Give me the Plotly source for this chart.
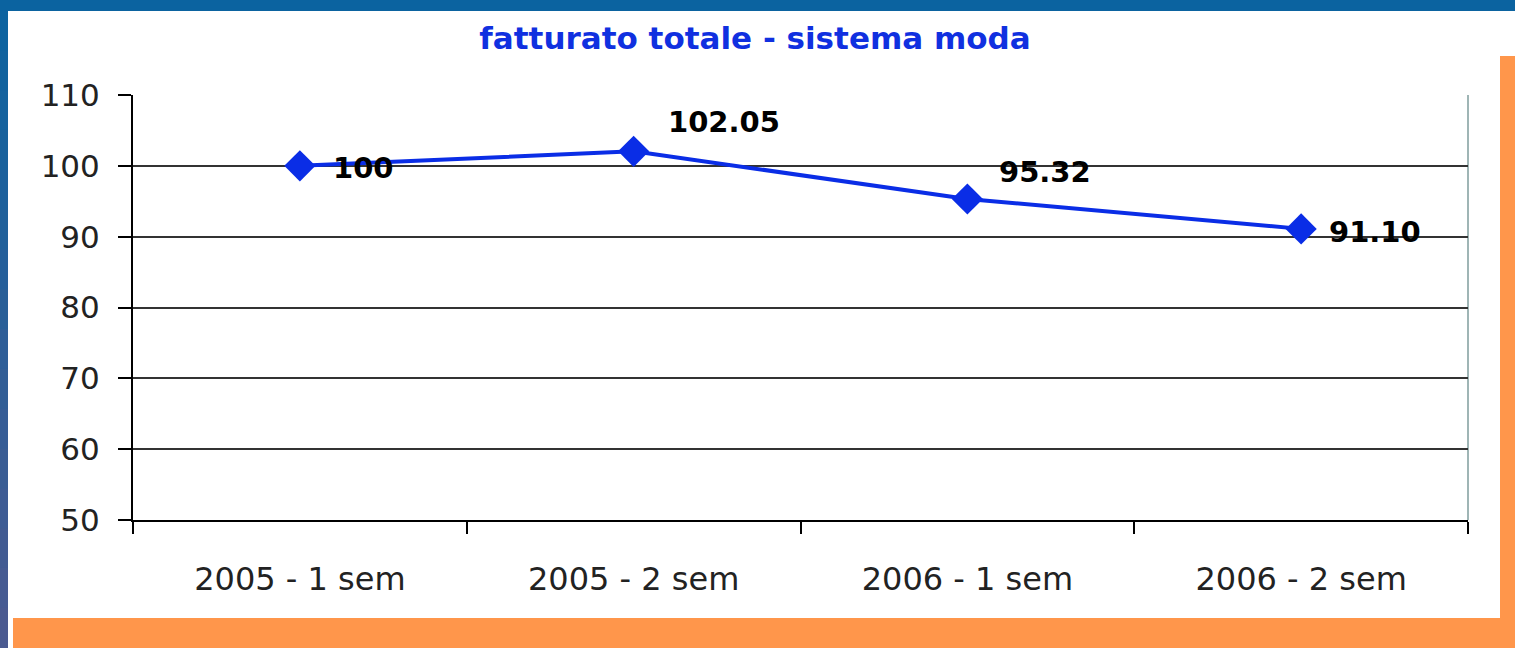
import plotly.graph_objects as go

# ---- data ----
categories = ["2005 - 1 sem", "2005 - 2 sem", "2006 - 1 sem", "2006 - 2 sem"]
values = [100, 102.05, 95.32, 91.10]
value_labels = ["100", "102.05", "95.32", "91.10"]
y_ticks = [50, 60, 70, 80, 90, 100, 110]
title_text = "fatturato totale - sistema moda"

# ---- styles ----
W, H = 1515, 648
M_L, M_R, M_T, M_B = 133, 47, 95, 128
BLUE_BG = "#0b63a0"
ORANGE = "#FF964B"
LINE_BLUE = "#0a2de6"
FONT = "DejaVu Sans"
label_shift = [(31, -2), (32, 29), (30, 27), (26, -3)]  # (xshift, yshift) px

PW = W - M_L - M_R
PH = H - M_T - M_B


def px_x(px):
    return (px - M_L) / PW


def px_y(py):
    return (H - M_B - py) / PH


fig = go.Figure()
fig.add_trace(go.Scatter(
    x=categories, y=values, mode="lines+markers",
    line=dict(color=LINE_BLUE, width=4),
    marker=dict(symbol="diamond", size=24, color=LINE_BLUE),
    hoverinfo="skip", showlegend=False, cliponaxis=False,
))

for c, v, t, (dx, dy) in zip(categories, values, value_labels, label_shift):
    fig.add_annotation(
        x=c, y=v, text=f"<b>{t}</b>", showarrow=False,
        xanchor="left", yanchor="middle", xshift=dx, yshift=dy,
        font=dict(family=FONT, size=29, color="black"),
    )

shapes = []
# left strip gradient (decoration)
top_rgb = (11, 99, 160)
bot_rgb = (76, 90, 144)
n_seg = 16
for i in range(n_seg):
    f = (i + 0.5) / n_seg
    col = tuple(round(a + (b - a) * f) for a, b in zip(top_rgb, bot_rgb))
    y0p = 11 + (H - 11) * i / n_seg
    y1p = 11 + (H - 11) * (i + 1) / n_seg
    shapes.append(dict(type="rect", xref="paper", yref="paper", layer="below",
                       x0=px_x(-2), x1=px_x(8), y0=px_y(y0p - 0.5), y1=px_y(y1p + 0.5),
                       fillcolor="rgb(%d,%d,%d)" % col, line=dict(width=0)))
shapes += [
    # white panel
    dict(type="rect", xref="paper", yref="paper", layer="below",
         x0=px_x(8), x1=px_x(W + 5), y0=px_y(11), y1=px_y(H + 5),
         fillcolor="white", line=dict(width=0)),
    # orange right bar
    dict(type="rect", xref="paper", yref="paper", layer="below",
         x0=px_x(1500), x1=px_x(W + 5), y0=px_y(56), y1=px_y(H + 5),
         fillcolor=ORANGE, line=dict(width=0)),
    # orange bottom bar
    dict(type="rect", xref="paper", yref="paper", layer="below",
         x0=px_x(13), x1=px_x(W + 5), y0=px_y(618), y1=px_y(H + 5),
         fillcolor=ORANGE, line=dict(width=0)),
    # right plot border
    dict(type="line", xref="paper", yref="paper", layer="below",
         x0=1, x1=1, y0=0, y1=1, line=dict(color="#7f9c9c", width=1.5)),
]

fig.update_layout(
    width=W, height=H,
    margin=dict(l=M_L, r=M_R, t=M_T, b=M_B),
    paper_bgcolor=BLUE_BG, plot_bgcolor="white",
    shapes=shapes,
    title=dict(text=f"<b>{title_text}</b>", x=755 / W, xref="container",
               xanchor="center", y=1 - 38 / H, yanchor="middle",
               font=dict(family=FONT, size=31, color="#1030e0")),
    xaxis=dict(
        type="category", range=[-0.5, 3.5],
        showgrid=False, zeroline=False,
        showline=True, linecolor="black", linewidth=2,
        ticks="outside", tickson="boundaries", ticklen=12, tickwidth=2,
        tickcolor="black", ticklabelstandoff=30,
        tickfont=dict(family=FONT, size=32, color="#222"),
    ),
    yaxis=dict(
        range=[50, 110], tickvals=y_ticks,
        showgrid=True, gridcolor="#333333", gridwidth=2,
        zeroline=False,
        showline=True, linecolor="black", linewidth=2,
        ticks="outside", ticklen=13, tickwidth=2, tickcolor="black",
        ticklabelstandoff=12,
        tickfont=dict(family=FONT, size=31, color="#222"),
    ),
)

fig.write_html("out.html", config={"displayModeBar": False},
               post_script="document.body.style.margin='0px';")
